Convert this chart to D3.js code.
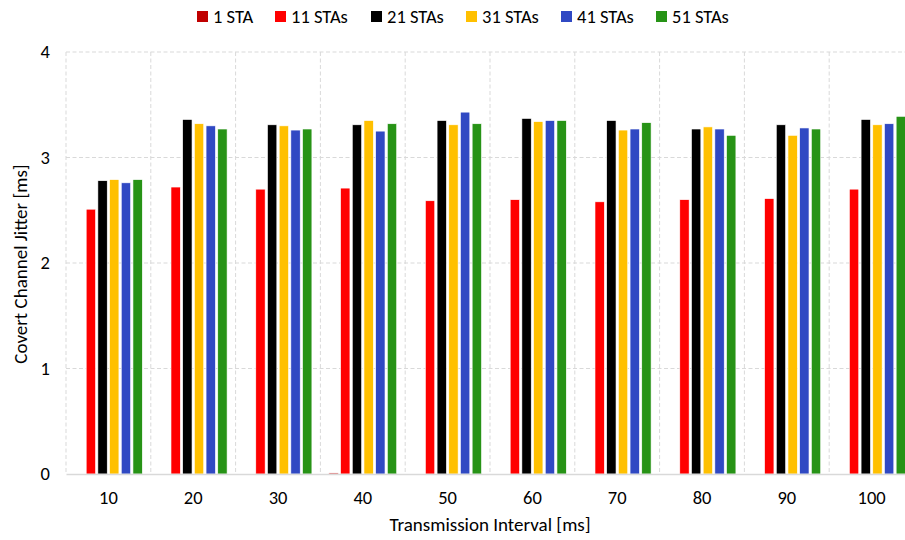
<!DOCTYPE html>
<html>
<head>
<meta charset="utf-8">
<script src="https://d3js.org/d3.v7.min.js"></script>
<style>
  body { margin: 0; background: #fff; }
  #chart { width: 905px; height: 540px; }
  text { font-family: Carlito, Lato, "Open Sans", sans-serif; fill: #000; }
</style>
</head>
<body>
<div id="chart"></div>
<script>
// 数据：传输间隔（类别）与各 STA 数量的抖动值
const intervals = [10, 20, 30, 40, 50, 60, 70, 80, 90, 100];
const seriesNames = ["1 STA", "11 STAs", "21 STAs", "31 STAs", "41 STAs", "51 STAs"];
const seriesColors = ["#c00000", "#ff0000", "#000000", "#ffc000", "#3049c3", "#279316"];

const sta1  = [0, 0, 0, 0.01, 0, 0, 0, 0, 0, 0];
const sta11 = [2.51, 2.72, 2.70, 2.71, 2.59, 2.60, 2.58, 2.60, 2.61, 2.70];
const sta21 = [2.78, 3.36, 3.31, 3.31, 3.35, 3.37, 3.35, 3.27, 3.31, 3.36];
const sta31 = [2.79, 3.32, 3.30, 3.35, 3.31, 3.34, 3.26, 3.29, 3.21, 3.31];
const sta41 = [2.76, 3.30, 3.26, 3.25, 3.43, 3.35, 3.27, 3.27, 3.28, 3.32];
const sta51 = [2.79, 3.27, 3.27, 3.32, 3.32, 3.35, 3.33, 3.21, 3.27, 3.39];
const yTicks = [0, 1, 2, 3, 4];

const seriesValues = [sta1, sta11, sta21, sta31, sta41, sta51];

const svg = d3.select("#chart").append("svg")
    .attr("width", 905)
    .attr("height", 540);

const margin = {left: 66, right: -9, top: 52, bottom: 66};
const width = 905 - margin.left - margin.right;
const height = 540 - margin.top - margin.bottom;

const g = svg.append("g")
    .attr("transform", `translate(${margin.left},${margin.top})`);

// 比例尺
const x0 = d3.scaleBand().domain(intervals).range([0, width]).padding(0);
const x1 = d3.scaleBand().domain(seriesNames)
    .range([8.5, x0.bandwidth() - 8.5])
    .paddingInner(0.2);
const y = d3.scaleLinear().domain([0, 4]).range([height, 0]);

// 水平网格线
g.append("g")
    .selectAll("line")
    .data(yTicks.filter(d => d > 0))
    .enter().append("line")
    .attr("x1", 0).attr("x2", width)
    .attr("y1", d => y(d)).attr("y2", d => y(d))
    .attr("stroke", "#d9d9d9")
    .attr("stroke-dasharray", "4,2.5");

// 垂直网格线
g.append("g")
    .selectAll("line")
    .data(intervals)
    .enter().append("line")
    .attr("x1", d => x0(d)).attr("x2", d => x0(d))
    .attr("y1", 0).attr("y2", height)
    .attr("stroke", "#d9d9d9")
    .attr("stroke-dasharray", "4,2.5");

// 柱子
const groups = g.selectAll(".grp")
    .data(intervals)
    .enter().append("g")
    .attr("class", "grp")
    .attr("transform", d => `translate(${x0(d)},0)`);

groups.selectAll("rect")
    .data((d, i) => seriesNames.map((s, k) => ({s, v: seriesValues[k][i], c: seriesColors[k]})))
    .enter().append("rect")
    .attr("x", d => x1(d.s))
    .attr("y", d => y(d.v))
    .attr("width", x1.bandwidth())
    .attr("height", d => y(0) - y(d.v))
    .attr("fill", d => d.c)
    .attr("stroke", "#fff")
    .attr("stroke-width", 0.6);

// x 轴
const xAxis = g.append("g")
    .attr("transform", `translate(0,${height})`)
    .call(d3.axisBottom(x0).tickSize(0).tickPadding(17));
xAxis.select(".domain").attr("stroke", "#d9d9d9").attr("stroke-width", 1.3);
xAxis.selectAll("text").style("font-size", "18.5px");

// y 轴
const yAxis = g.append("g")
    .call(d3.axisLeft(y).tickValues(yTicks).tickSize(0).tickPadding(16).tickFormat(d3.format("d")));
yAxis.select(".domain").remove();
yAxis.selectAll("text").style("font-size", "18.5px");

// 坐标轴标题
svg.append("text")
    .attr("x", 490).attr("y", 531)
    .attr("text-anchor", "middle")
    .style("font-size", "19px")
    .text("Transmission Interval [ms]");

svg.append("text")
    .attr("transform", "translate(27,264) rotate(-90)")
    .attr("text-anchor", "middle")
    .style("font-size", "19px")
    .text("Covert Channel Jitter [ms]");

// 图例
const legendX = [197, 275, 371, 466, 561, 656];
const legend = svg.append("g")
    .selectAll("g")
    .data(seriesNames)
    .enter().append("g")
    .attr("transform", (d, i) => `translate(${legendX[i]},11)`);
legend.append("rect")
    .attr("width", 11).attr("height", 11)
    .attr("fill", (d, i) => seriesColors[i]);
legend.append("text")
    .attr("x", 16).attr("y", 11.5)
    .style("font-size", "18.5px")
    .text(d => d);
</script>
</body>
</html>
